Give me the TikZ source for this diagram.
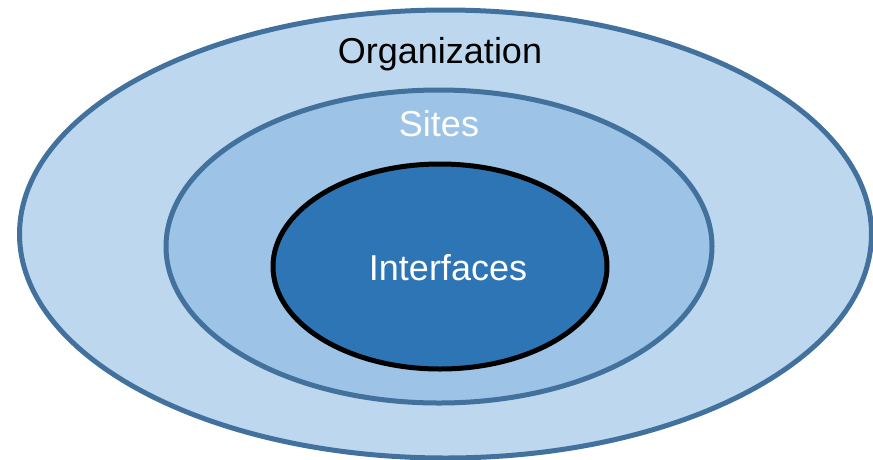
\documentclass[tikz,border=0pt]{standalone}
\usepackage{fontspec}
\setmainfont{Liberation Sans}
\usetikzlibrary{shapes.geometric}
\definecolor{ringline}{HTML}{41719C}
\definecolor{orgfill}{HTML}{BDD7EE}
\definecolor{sitefill}{HTML}{9DC3E6}
\definecolor{iffill}{HTML}{2E75B6}
\tikzset{
  ring/.style={ellipse, draw=ringline, line width=5pt, inner sep=0pt},
  label text/.style={anchor=base, inner sep=0pt, font=\fontsize{36}{43}\selectfont}
}
\begin{document}
\begin{tikzpicture}[x=1pt, y=-1pt]
  \useasboundingbox (0,0) rectangle (873,459);
  % organisation, sites and interfaces as nested ellipses
  \node[ring, fill=orgfill, minimum width=852pt, minimum height=448pt] (org) at (445.5,234) {};
  \node[ring, fill=sitefill, minimum width=546pt, minimum height=313pt] (sites) at (439,246.5) {};
  \node[ring, fill=iffill, draw=black, minimum width=334pt, minimum height=205pt] (ifc) at (440,266.5) {};
  % labels
  \node[label text, text=black] (orglabel) at (440,63) {Organization};
  \node[label text, text=white] (sitelabel) at (439,136) {Sites};
  \node[label text, text=white] (iflabel) at (448,280) {Interfaces};
\end{tikzpicture}
\end{document}
